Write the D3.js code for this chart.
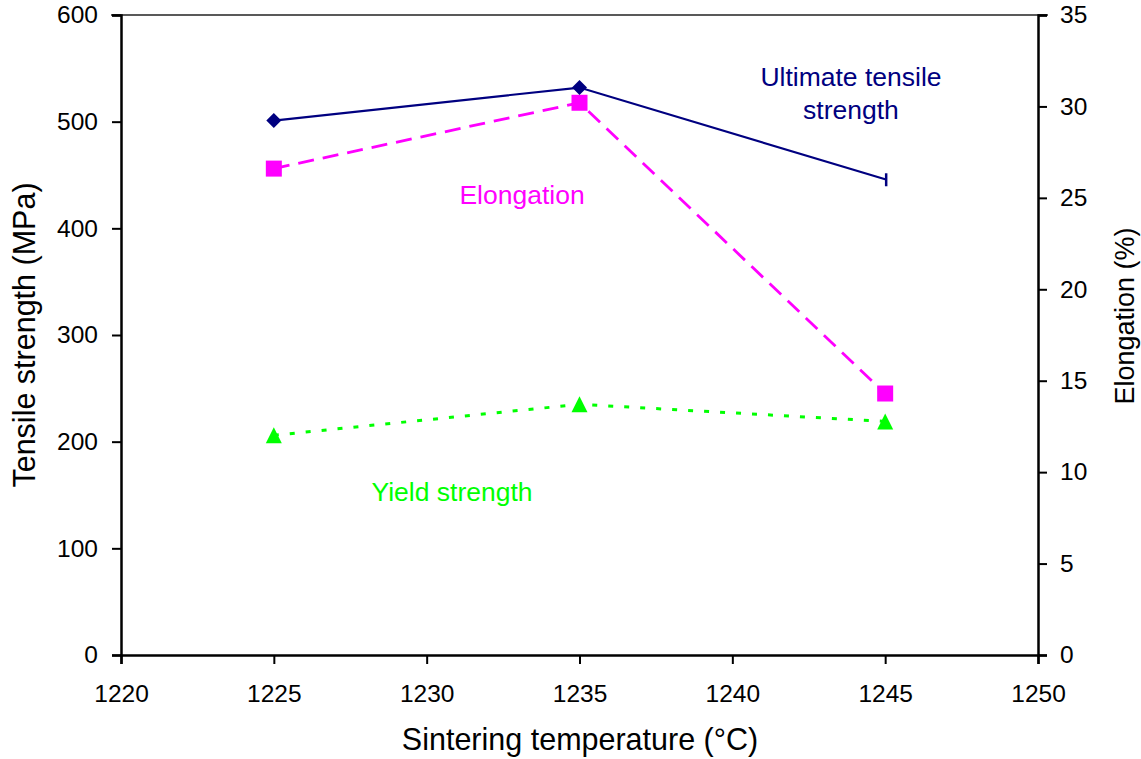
<!DOCTYPE html>
<html><head><meta charset="utf-8">
<script src="https://cdn.jsdelivr.net/npm/d3@7"></script>
<style>body{margin:0;background:#fff;} svg{display:block;font-family:Arial,"Liberation Sans",sans-serif;}</style>
</head><body><svg width="1141" height="759"></svg>
<script>
const temps = [1225, 1235, 1245];
const uts = [501, 532, 446];          // MPa, left axis
const yieldStr = [206, 235, 219];     // MPa, left axis
const elong = [26.6, 30.2, 14.3];     // %, right axis
const xTicks = [1220, 1225, 1230, 1235, 1240, 1245, 1250];
const yLeftTicks = [0, 100, 200, 300, 400, 500, 600];
const yRightTicks = [0, 5, 10, 15, 20, 25, 30, 35];

const svg = d3.select("svg");
const L = 121, R = 1038, T = 15, B = 655;
const x = d3.scaleLinear().domain([1220, 1250]).range([L, R]);
const yL = d3.scaleLinear().domain([0, 600]).range([B, T]);
const yR = d3.scaleLinear().domain([0, 35]).range([B, T]);

// top border
svg.append("line").attr("x1", L - 10).attr("x2", R + 10).attr("y1", T).attr("y2", T)
  .attr("stroke", "#222").attr("stroke-width", 1.5);

const fs = "24.5px";
const gx = svg.append("g").attr("transform", `translate(0,${B})`)
  .call(d3.axisBottom(x).tickValues(xTicks).tickFormat(d3.format("d")).tickSizeOuter(0).tickSize(9).tickPadding(21));
const gl = svg.append("g").attr("transform", `translate(${L},0)`)
  .call(d3.axisLeft(yL).tickValues(yLeftTicks).tickSizeOuter(0).tickSize(9).tickPadding(14));
const gr = svg.append("g").attr("transform", `translate(${R},0)`)
  .call(d3.axisRight(yR).tickValues(yRightTicks).tickSizeOuter(0).tickSize(9).tickPadding(13));
[gx, gl, gr].forEach(g => {
  g.selectAll("path").attr("stroke", "#000").attr("stroke-width", 2.5);
  g.selectAll("line").attr("stroke", "#000").attr("stroke-width", 2);
  g.selectAll("text").attr("font-size", fs).attr("fill", "#000").attr("font-family", "Arial, 'Liberation Sans', sans-serif");
});

// Axis titles
svg.append("text").attr("x", 580).attr("y", 750).attr("text-anchor", "middle")
  .attr("font-size", "30.5px").text("Sintering temperature (°C)");
svg.append("text").attr("transform", `translate(35,335) rotate(-90)`).attr("text-anchor", "middle")
  .attr("font-size", "30.5px").text("Tensile strength (MPa)");
svg.append("text").attr("transform", `translate(1134,316) rotate(-90)`).attr("text-anchor", "middle")
  .attr("font-size", "27px").text("Elongation (%)");

const lineL = d3.line().x((d, i) => x(temps[i])).y(d => yL(d));
const lineR = d3.line().x((d, i) => x(temps[i])).y(d => yR(d));

// Yield strength
svg.append("path").datum(yieldStr).attr("d", lineL).attr("fill", "none")
  .attr("stroke", "#00FF00").attr("stroke-width", 3).attr("stroke-dasharray", "5,11");
svg.selectAll(".tri").data(yieldStr).enter().append("path")
  .attr("d", "M0,-8L8,8L-8,8Z").attr("transform", (d, i) => `translate(${x(temps[i])},${yL(d)})`).attr("fill", "#00FF00");

// Elongation
svg.append("path").datum(elong).attr("d", lineR).attr("fill", "none")
  .attr("stroke", "#FF00FF").attr("stroke-width", 2.8).attr("stroke-dasharray", "16,9");
svg.selectAll(".sq").data(elong).enter().append("rect")
  .attr("x", (d, i) => x(temps[i]) - 8).attr("y", d => yR(d) - 8)
  .attr("width", 16).attr("height", 16).attr("fill", "#FF00FF");

// UTS
svg.append("path").datum(uts).attr("d", lineL).attr("fill", "none")
  .attr("stroke", "#000080").attr("stroke-width", 2.2);
svg.selectAll(".dia").data(uts.slice(0, 2)).enter().append("path")
  .attr("d", "M0,-7.5L7.5,0L0,7.5L-7.5,0Z").attr("transform", (d, i) => `translate(${x(temps[i])},${yL(d)})`).attr("fill", "#000080");
// last point drawn as a short vertical bar marker
svg.append("line").attr("x1", x(temps[2]) + 1).attr("x2", x(temps[2]) + 1)
  .attr("y1", yL(uts[2]) - 6).attr("y2", yL(uts[2]) + 7).attr("stroke", "#000080").attr("stroke-width", 2.5);

// Series labels
const lf = "26.5px";
svg.append("text").attr("x", 851).attr("y", 86).attr("text-anchor", "middle").attr("font-size", lf)
  .attr("fill", "#000080").text("Ultimate tensile");
svg.append("text").attr("x", 851).attr("y", 119).attr("text-anchor", "middle").attr("font-size", lf)
  .attr("fill", "#000080").text("strength");
svg.append("text").attr("x", 522).attr("y", 204).attr("text-anchor", "middle").attr("font-size", lf)
  .attr("fill", "#FF00FF").text("Elongation");
svg.append("text").attr("x", 452).attr("y", 501).attr("text-anchor", "middle").attr("font-size", lf)
  .attr("fill", "#00FF00").text("Yield strength");
</script></body></html>
